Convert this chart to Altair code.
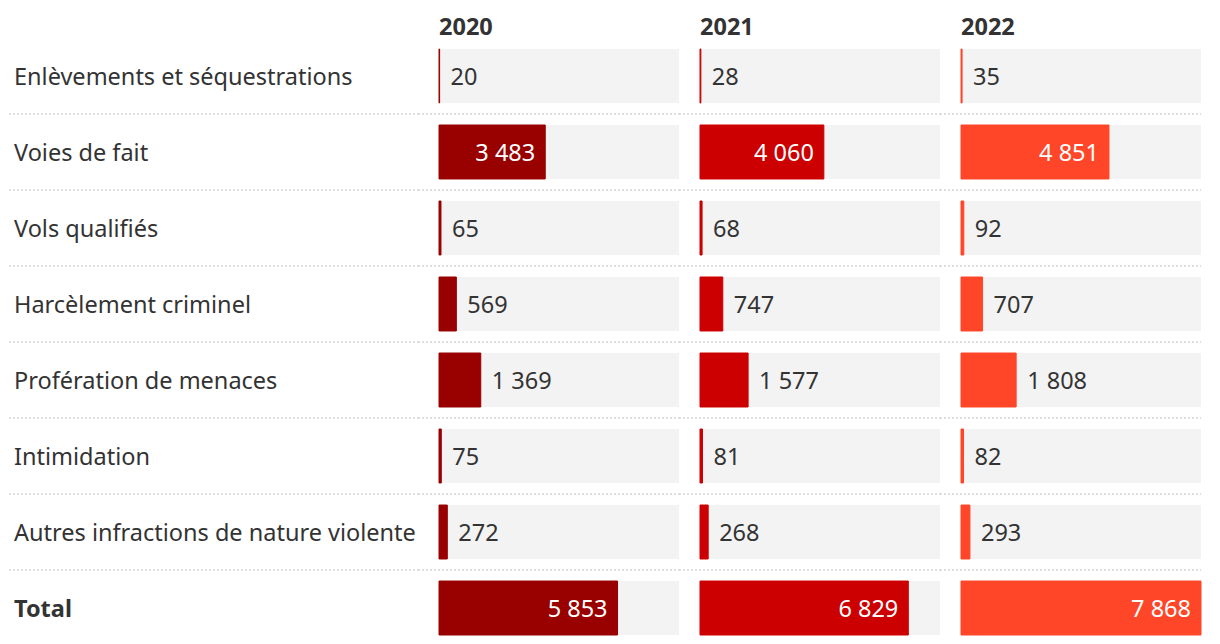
import altair as alt
import pandas as pd

categories = [
    "Enlèvements et séquestrations",
    "Voies de fait",
    "Vols qualifiés",
    "Harcèlement criminel",
    "Profération de menaces",
    "Intimidation",
    "Autres infractions de nature violente",
    "Total",
]
years = ["2020", "2021", "2022"]
values_2020 = [20, 3483, 65, 569, 1369, 75, 272, 5853]
values_2021 = [28, 4060, 68, 747, 1577, 81, 268, 6829]
values_2022 = [35, 4851, 92, 707, 1808, 82, 293, 7868]
colors = ["#990000", "#cc0000", "#ff4628"]

series = {"2020": values_2020, "2021": values_2021, "2022": values_2022}
rows = []
for y in years:
    for c, v in zip(categories, series[y]):
        rows.append({"cat": c, "year": y, "value": v,
                     "label": f"{v:,}".replace(",", " ")})
df = pd.DataFrame(rows)
cat_df = pd.DataFrame({"cat": categories})
sep_df = pd.DataFrame({"cat": categories[:-1]})

xmax = max(values_2020 + values_2021 + values_2022)
FONT = "Noto Sans"
FS = 23.5
TXT = "#333333"
PANEL_W = 240
H = 586
ysc = alt.Scale(domain=categories, paddingInner=0.29, paddingOuter=0)
Y = alt.Y("cat:N", sort=categories, scale=ysc, axis=None)
xsc = alt.Scale(domain=[0, xmax], nice=False, zero=True)
SEP = dict(color="#d3d3d3", strokeWidth=1.5, strokeDash=[2, 2], yOffset=11)
YSEP = alt.Y("cat:N", sort=categories, scale=ysc, axis=None, bandPosition=1)
TXTP = dict(baseline="middle", font=FONT, fontSize=FS, dy=2)

# label panel
lab_base = alt.Chart(cat_df)
labels = alt.layer(
    lab_base.transform_filter(alt.datum.cat != "Total").mark_text(
        align="left", color=TXT, **TXTP
    ).encode(y=Y, x=alt.value(5), text="cat:N"),
    lab_base.transform_filter(alt.datum.cat == "Total").mark_text(
        align="left", fontWeight="bold", color=TXT, **TXTP
    ).encode(y=Y, x=alt.value(5), text="cat:N"),
    alt.Chart(sep_df).mark_rule(**SEP).encode(y=YSEP, x=alt.value(0), x2=alt.value(409)),
).properties(width=409, height=H)

panels = [labels]
for i, y in enumerate(years):
    base = alt.Chart(df).transform_filter(alt.datum.year == y)
    col = colors[i]
    bg = base.mark_bar(color="#f3f3f3").encode(y=Y, x=alt.value(0), x2=alt.value(PANEL_W))
    bar = base.mark_bar(color=col, stroke=col, strokeWidth=1).encode(
        y=Y, x=alt.X("value:Q", scale=xsc, axis=None)
    )
    inside = base.transform_filter(alt.datum.value >= 3000).mark_text(
        align="right", dx=-10, color="white", **TXTP
    ).encode(y=Y, x=alt.X("value:Q", scale=xsc, axis=None), text="label:N")
    outside = base.transform_filter(alt.datum.value < 3000).mark_text(
        align="left", dx=11, color=TXT, **TXTP
    ).encode(y=Y, x=alt.X("value:Q", scale=xsc, axis=None), text="label:N")
    seps = alt.Chart(sep_df).mark_rule(**SEP).encode(
        y=YSEP, x=alt.value(-21), x2=alt.value(PANEL_W)
    )
    header = alt.Chart(pd.DataFrame({"year": [y]})).mark_text(
        align="left", fontWeight="bold", color=TXT, **TXTP
    ).encode(x=alt.value(0), y=alt.value(-23), text="year:N")
    panels.append(alt.layer(bg, bar, inside, outside, seps, header).properties(width=PANEL_W, height=H))

chart = alt.hconcat(*panels, spacing=21, bounds="flush").properties(
    padding={"top": 8, "left": 0, "right": 0, "bottom": 0}
).configure_view(stroke=None)

chart.save("out.html", embed_options={"renderer": "svg", "actions": False})
